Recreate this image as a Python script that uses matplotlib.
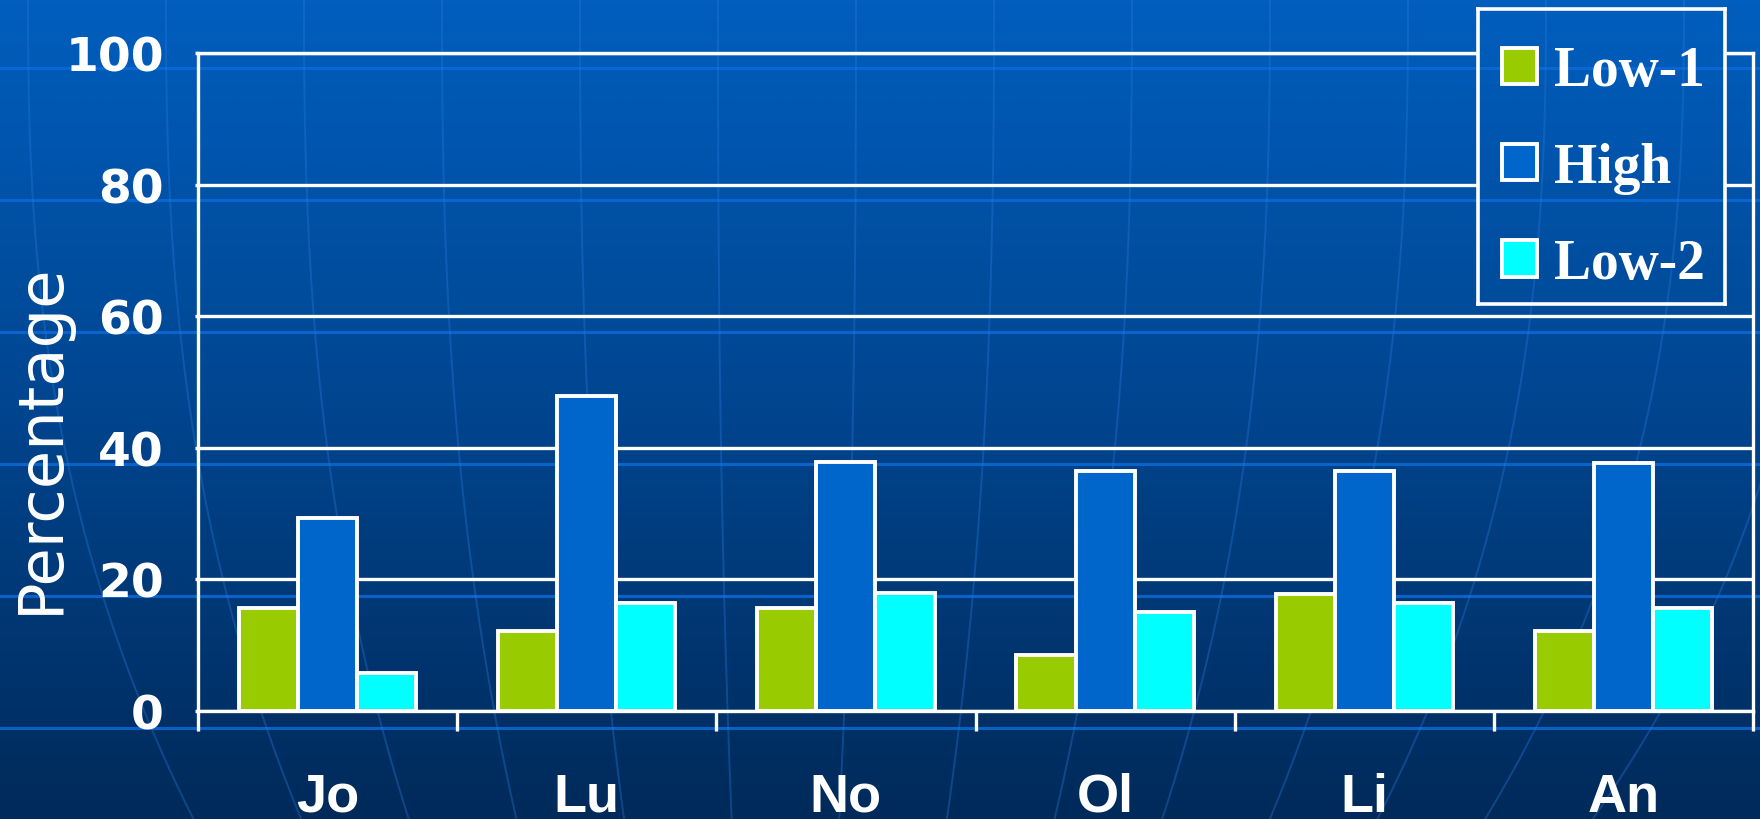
import numpy as np
import matplotlib
matplotlib.use('Agg')
import matplotlib.pyplot as plt
import matplotlib.transforms as mtransforms
from matplotlib.colors import LinearSegmentedColormap

# percentages per person for the three groups
names = ['Jo', 'Lu', 'No', 'Ol', 'Li', 'An']
low1 = [15.6, 12.2, 15.6, 8.5, 17.8, 12.2]
high = [29.3, 47.8, 37.8, 36.4, 36.4, 37.7]
low2 = [5.8, 16.4, 17.9, 15.0, 16.4, 15.7]
series_names = ['Low-1', 'High', 'Low-2']
series_colors = ['#99cc00', '#0066cc', '#00ffff']
y_ticks = [0, 20, 40, 60, 80, 100]

W, H = 1760, 820
fig = plt.figure(figsize=(W / 100, H / 100), dpi=100)

bg_cmap = LinearSegmentedColormap.from_list('bg', ['#005ebe', '#00458f', '#002a5a'])


def draw_backdrop(bax, x0, x1, y0, y1):
    # blue gradient with faint globe lines, drawn in figure pixels (y down)
    grad = np.linspace(0, 1, 256).reshape(-1, 1)
    bax.imshow(grad, cmap=bg_cmap, aspect='auto', extent=(0, W, H, 0),
               interpolation='bicubic')
    for yl in [69, 201, 333, 465, 597, 729]:
        bax.axhline(yl, color='#0a6ad8', lw=2.2, alpha=0.85)
    yy = np.linspace(0, H, 200)
    for xm in np.arange(28, W + 100, 138):
        xx = 780 + (xm - 780) * (1 - 0.22 * (yy / H) ** 2.5)
        bax.plot(xx, yy, color='#2a7ae0', lw=1.4, alpha=0.35)
    bax.set_xlim(x0, x1)
    bax.set_ylim(y1, y0)
    bax.set_xticks([])
    bax.set_yticks([])


bg = fig.add_axes([0, 0, 1, 1], zorder=0)
draw_backdrop(bg, 0, W, 0, H)
bg.axis('off')

ax = fig.add_axes([198 / W, 1 - 712 / H, (1753 - 198) / W, (712 - 54) / H], zorder=1)
ax.patch.set_alpha(0)

x = np.arange(len(names))
bw = 0.228
for i, (vals, lab, col) in enumerate(zip([low1, high, low2], series_names, series_colors)):
    ax.bar(x + (i - 1) * bw, vals, bw, color=col, edgecolor='white',
           linewidth=2.8, label=lab, zorder=3)

ax.set_xlim(-0.5, len(names) - 0.5)
ax.set_ylim(0, 100)
ax.set_yticks(y_ticks)
ax.yaxis.grid(True, color='white', lw=2.4, zorder=1)
ax.set_axisbelow(True)
for sp in ax.spines.values():
    sp.set_color('white')
    sp.set_linewidth(2.4)

ax.tick_params(axis='y', length=2.5, width=2.4, color='white', pad=22,
               labelcolor='white', labelsize=34)
for t in ax.get_yticklabels():
    t.set_fontweight('bold')
    t.set_family('DejaVu Sans')

ax.set_xticks(x)
ax.set_xticklabels([])
ax.tick_params(axis='x', which='major', length=0)
ax.set_xticks(np.arange(-0.5, len(names)), minor=True)
ax.tick_params(axis='x', which='minor', length=14.4, width=2.4, color='white',
               direction='out')

# category names sit on a baseline near the bottom edge
trans = mtransforms.blended_transform_factory(ax.transData, fig.transFigure)
for xi, nm in zip(x, names):
    ax.text(xi, 1 - 812 / H, nm, transform=trans, ha='center', va='baseline',
            color='white', fontsize=39, fontweight='bold',
            family='Liberation Sans')

fig.text(58 / W, 1 - 438 / H, 'Percentage', rotation=90, rotation_mode='anchor',
         ha='center', va='baseline', color='white', fontsize=45,
         family='DejaVu Sans')

# legend box: backdrop copy with a white frame, so grid lines stop at it
lax = fig.add_axes([1478 / W, 1 - 305 / H, 247 / W, 295 / H], zorder=2)
draw_backdrop(lax, 1478, 1725, 10, 305)
for sp in lax.spines.values():
    sp.set_color('white')
    sp.set_linewidth(2.6)

handles, labels = ax.get_legend_handles_labels()
leg = fig.legend(handles, labels, loc='upper left',
                 bbox_to_anchor=(1480 / W, 1 - 24 / H), borderaxespad=0,
                 prop=dict(family='Liberation Serif', weight='bold', size=40),
                 labelcolor='white', frameon=False, borderpad=0.4,
                 handlelength=0.63, handleheight=0.63, handletextpad=0.3,
                 labelspacing=0.8)

fig.savefig('out.png', dpi=100)
